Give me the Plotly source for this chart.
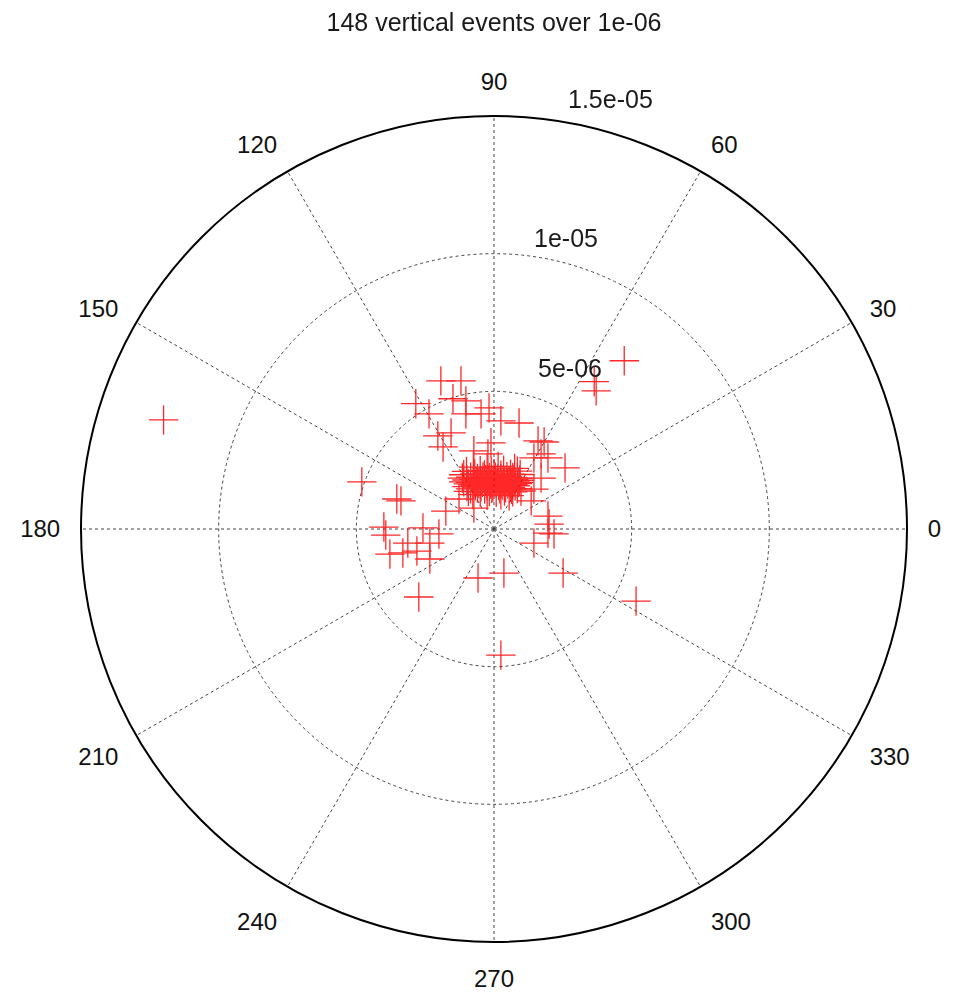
import numpy as np
import plotly.graph_objects as go

# Event horizontal components (units of 1e-06)
east = [
    -12.0, 4.73, 3.64, 3.71, 5.16, 0.25, -2.73, -0.58, 0.36, 2.51,
    1.45, 1.96, 2.00, 2.18, 1.96, -4.80, -3.53, -3.38, -4.00, -3.93,
    -2.58, -2.00, -3.13, -2.33, -3.78, -3.31, -2.80, -2.33, -1.75, -1.93,
    -1.20, -2.84, -1.49, -1.02, -2.36, -1.02, -0.47, 0.25, 0.91, -2.04,
    -1.85, -1.56, -0.11, 1.60, 1.82, 1.71, 1.96, 2.58, 1.71, 1.35,
    -1.27, -0.73, 1.45, 0.98, -0.73, -0.22, 1.45, -0.18,
    -0.75, -0.25, 0.15, 0.75,
    -1.0, -0.5, -0.1, 0.35, 0.85,
    -1.1, -0.7, -0.35, 0.0, 0.25, 0.6, 0.95,
    -1.15, -0.85, -0.6, -0.4, -0.17, 0.05, 0.25, 0.47, 0.68, 0.85,
    -0.98, -0.72, -0.5, -0.3, -0.08, 0.13, 0.34, 0.55, 0.72, 0.93,
    -1.1, -0.85, -0.64, -0.42, -0.21, 0.0, 0.17, 0.38, 0.55, 0.76, 0.9,
    -0.93, -0.76, -0.55, -0.34, -0.13, 0.08, 0.3, 0.5, 0.68, 0.85,
    -0.98, -0.68, -0.47, -0.25, -0.04, 0.17, 0.38, 0.6, 0.77,
    -0.85, -0.6, -0.34, -0.08, 0.21, 0.42, 0.64, 0.85,
    -0.93, -0.5, -0.17, 0.08, 0.38, 0.68,
    -0.77, -0.25, 0.25, 0.55,
    -0.47, 0.04, 0.47, -0.25, 0.25, 0.64,
]
north = [
    3.96, 6.11, 5.35, 5.02, -2.62, -4.58, -2.47, -1.78, -1.60, -1.60,
    -0.51, 0.47, 0.18, -0.18, -0.15, 1.71, 1.09, 1.02, 0.07, -0.22,
    0.04, -0.18, -0.51, -0.51, -0.91, -0.87, -0.80, -1.09, 0.65, 5.38,
    5.38, 4.55, 4.73, 4.65, 4.18, 4.18, 4.18, 3.93, 3.85, 3.38,
    2.98, 3.49, 3.13, 3.20, 3.16, 2.73, 2.58, 2.22, 1.85, 1.02,
    1.09, 0.76, 1.45, 1.38, 2.84, 2.73, 2.58, 4.40,
    2.25, 2.21, 2.27, 2.20,
    2.09, 2.12, 2.08, 2.14, 2.10,
    1.97, 2.00, 1.96, 2.01, 1.95, 1.99, 1.98,
    1.85, 1.88, 1.84, 1.89, 1.86, 1.88, 1.83, 1.90, 1.87, 1.85,
    1.78, 1.80, 1.77, 1.79, 1.76, 1.81, 1.79, 1.75, 1.80, 1.77,
    1.71, 1.69, 1.72, 1.70, 1.73, 1.71, 1.68, 1.72, 1.70, 1.71, 1.69,
    1.64, 1.61, 1.65, 1.62, 1.63, 1.66, 1.60, 1.64, 1.62, 1.65,
    1.54, 1.57, 1.53, 1.56, 1.52, 1.58, 1.55, 1.51, 1.57,
    1.46, 1.49, 1.45, 1.48, 1.46, 1.50, 1.44, 1.47,
    1.37, 1.34, 1.36, 1.33, 1.38, 1.35,
    1.25, 1.22, 1.24, 1.21,
    1.75, 1.74, 1.76, 1.67, 1.68, 1.67,
]
unit = 1e-6

angular_ticks = [0, 30, 60, 90, 120, 150, 180, 210, 240, 270, 300, 330]
radial_ticks = [5e-6, 1e-5, 1.5e-5]
radial_labels = ["5e-06", "1e-05", "1.5e-05"]
title_text = "148 vertical events over 1e-06"

e = np.array(east) * unit
n = np.array(north) * unit
r = np.hypot(e, n)
theta = np.degrees(np.arctan2(n, e)) % 360

# geometry (screen pixels); page body margin offsets the figure by ~7px
W, H = 957, 999
cx, cy, R = 493, 528, 413
off = 7
rmax = radial_ticks[-1]
FONT = "Liberation Sans"


def px_x(x):
    return (x - off) / W


def px_y(y):
    return 1 - (y - off) / H


fig = go.Figure()
fig.add_trace(go.Scatterpolar(
    r=r, theta=theta, mode="markers",
    marker=dict(symbol="cross-thin", size=21, color="#ff0000",
                line=dict(color="#ff0000", width=1.3)),
    opacity=0.85,
    showlegend=False, hoverinfo="skip",
))

# radial tick labels, placed just outside each circle
label_theta = [64.7, 76.1, 74.8]
label_offset = [1.47e-6, 0.9e-6, 1.2e-6]
annotations = []
for t, o, a, txt in zip(radial_ticks, label_offset, label_theta, radial_labels):
    rr = (t + o) / rmax * R
    annotations.append(dict(
        x=px_x(cx + rr * np.cos(np.radians(a))),
        y=px_y(cy - rr * np.sin(np.radians(a))),
        xref="paper", yref="paper",
        text=txt, showarrow=False, xanchor="center", yanchor="middle",
        font=dict(family=FONT, size=25, color="#1a1a1a"),
    ))

fig.update_layout(
    width=W, height=H,
    margin=dict(l=0, r=0, t=0, b=0),
    paper_bgcolor="white",
    annotations=annotations,
    title=dict(text=title_text, x=px_x(cx), xanchor="center",
               y=1 - 14 / H, yanchor="middle",
               font=dict(family=FONT, size=25, color="#1a1a1a")),
    polar=dict(
        domain=dict(x=[px_x(cx - R), px_x(cx + R)],
                    y=[px_y(cy + R), px_y(cy - R)]),
        bgcolor="white",
        angularaxis=dict(
            rotation=0, direction="counterclockwise",
            tickmode="array", tickvals=angular_ticks,
            ticktext=[str(a) for a in angular_ticks],
            ticks="outside", ticklen=15, tickcolor="rgba(0,0,0,0)",
            tickfont=dict(family=FONT, size=24, color="#111111"),
            showline=True, linecolor="black", linewidth=2,
            showgrid=True, gridcolor="#444444", griddash="dot", gridwidth=1,
            layer="below traces",
        ),
        radialaxis=dict(
            range=[0, rmax], tickmode="array", tickvals=radial_ticks[:2],
            showticklabels=False, ticks="", showline=False,
            showgrid=True, gridcolor="#444444", griddash="dot", gridwidth=1,
            layer="below traces",
        ),
    ),
)

fig.write_html("out.html")
